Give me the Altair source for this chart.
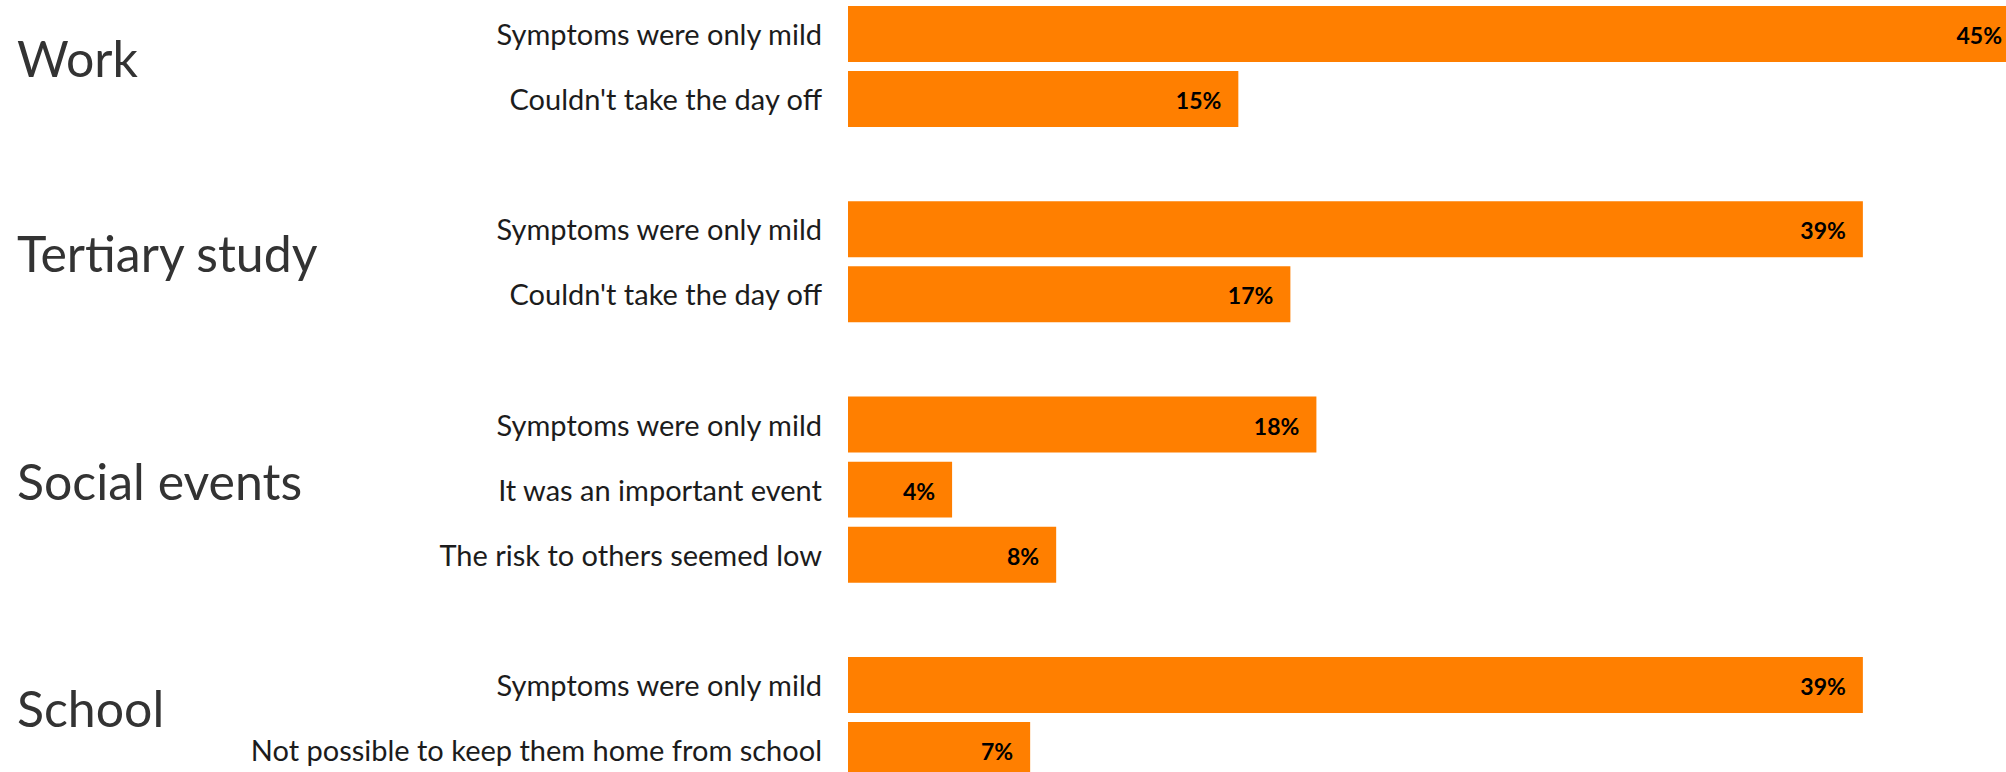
import altair as alt
import pandas as pd

# ---- data ----
group_order = ["Work", "Tertiary study", "Social events", "School"]
groups = ["Work", "Work",
          "Tertiary study", "Tertiary study",
          "Social events", "Social events", "Social events",
          "School", "School"]
reasons = ["Symptoms were only mild", "Couldn't take the day off",
           "Symptoms were only mild", "Couldn't take the day off",
           "Symptoms were only mild", "It was an important event", "The risk to others seemed low",
           "Symptoms were only mild", "Not possible to keep them home from school"]
values = [45, 15, 39, 17, 18, 4, 8, 39, 7]

# ---- row layout: consecutive rows per group, one blank row between groups ----
rows = []
r = 0
for gi, g in enumerate(group_order):
    if gi > 0:
        r += 1
    for grp, rea, v in zip(groups, reasons, values):
        if grp == g:
            rows.append({"group": grp, "reason": rea, "value": v, "row": r})
            r += 1
df = pd.DataFrame(rows)
titles = df.groupby("group", sort=False)["row"].mean().reset_index()

ORANGE = "#FF7F00"
LABEL_FONT = "Lato"

yscale = alt.Scale(domain=[-0.522, 11.338], reverse=True, nice=False, zero=False)
xscale = alt.Scale(domain=[0, 44.5], nice=False, zero=True)

base = alt.Chart(df)

bars = base.mark_bar(color=ORANGE, clip=True).transform_calculate(
    lo="datum.row - 0.43", hi="datum.row + 0.43"
).encode(
    x=alt.X("value:Q", scale=xscale, axis=None),
    x2=alt.value(0),
    y=alt.Y("lo:Q", scale=yscale, axis=None),
    y2="hi:Q",
)

value_text = base.mark_text(
    align="right", baseline="middle", dx=-17, dy=3,
    font=LABEL_FONT, fontWeight="bold", fontSize=23, color="#000000"
).transform_calculate(pct="datum.value + '%'").encode(
    x=alt.X("value:Q", scale=xscale, axis=None),
    y=alt.Y("row:Q", scale=yscale, axis=None),
    text="pct:N",
)

row_labels = base.mark_text(
    align="right", baseline="middle", dy=2,
    font=LABEL_FONT, fontSize=29, color="#1c1c1c"
).encode(
    x=alt.value(-26),
    y=alt.Y("row:Q", scale=yscale, axis=None),
    text="reason:N",
)

title_text = alt.Chart(titles).mark_text(
    align="left", baseline="middle", dy=-5,
    font=LABEL_FONT, fontSize=50, color="#333333"
).encode(
    x=alt.value(-831),
    y=alt.Y("row:Q", scale=yscale, axis=None),
    text="group:N",
)

chart = alt.layer(bars, value_text, row_labels, title_text).properties(
    width=1158, height=772,
    padding={"left": 848, "top": 0, "right": 0, "bottom": 0},
    autosize=alt.AutoSizeParams(type="none"),
    background="white",
).configure_view(stroke=None)

chart.save("out.html", embed_options={"renderer": "svg", "actions": False})
